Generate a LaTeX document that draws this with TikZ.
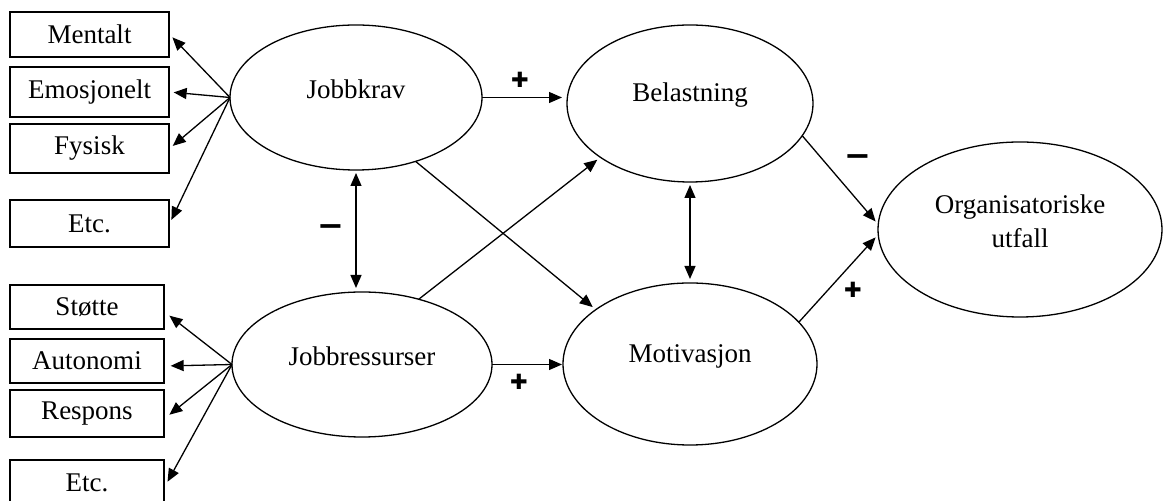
\documentclass[tikz,border=0pt]{standalone}
\usepackage{fontspec}
\setmainfont{Liberation Serif}
\newfontfamily\tegnfont{DejaVu Sans}
\usetikzlibrary{shapes.geometric, arrows.meta}

\begin{document}
\begin{tikzpicture}[x=0.5pt, y=-0.5pt, line width=0.65pt,
    font=\fontsize{13.5}{17}\selectfont,
    boks/.style={draw, rectangle, minimum width=79.5pt, minimum height=22.5pt, inner sep=0pt},
    oval/.style={draw, ellipse, inner sep=0pt, outer sep=0pt},
    tekst/.style={yshift=4pt, align=center, inner sep=0pt},
    pil/.style={-{Triangle[length=6.5pt,width=5.5pt]}, shorten >=2pt},
    dobbel/.style={{Triangle[length=6.5pt,width=5.5pt]}-{Triangle[length=6.5pt,width=5.5pt]}, shorten <=1.5pt, shorten >=2pt},
    tegn/.style={font=\tegnfont\bfseries\fontsize{16}{16}\selectfont, inner sep=0pt},
    pluss/.style={font=\tegnfont\fontsize{10.5}{10.5}\selectfont, inner sep=0pt}]
                    \useasboundingbox (0,0) rectangle (1163,501);

                    % krav
                    \node (mentalt) [boks] at (89.5, 34.5) {Mentalt};
                    \node (emosjonelt) [boks, minimum height=25pt] at (89.5, 92) {Emosjonelt};
                    \node (fysisk) [boks, minimum height=24.5pt] at (89.5, 148.5) {Fysisk};
                    \node (etckrav) [boks, minimum height=23.5pt] at (89.5, 223.5) {Etc.};

                    % ressurser
                    \node (stotte) [boks, minimum width=77pt, minimum height=22pt] at (87, 307) {Støtte};
                    \node (autonomi) [boks, minimum width=77pt, minimum height=22pt] at (87, 361) {Autonomi};
                    \node (respons) [boks, minimum width=77pt, minimum height=23.5pt] at (87, 413.5) {Respons};
                    \node (etcres) [boks, minimum width=77pt, minimum height=23pt] at (87, 483) {Etc.};

                    \node (krav) [oval, minimum width=126pt, minimum height=72.5pt, label={[tekst]center:Jobbkrav}] at (356, 97.5) {};
                    \node (res) [oval, minimum width=130pt, minimum height=72.5pt, label={[tekst]center:Jobbressurser}] at (362, 364.5) {};
                    \node (bel) [oval, minimum width=123pt, minimum height=78.5pt, label={[tekst]center:Belastning}] at (690, 103.5) {};
                    \node (mot) [oval, minimum width=127pt, minimum height=81pt, label={[tekst]center:Motivasjon}] at (690, 364) {};
                    \node (org) [oval, minimum width=142pt, minimum height=87.5pt, label={[tekst]center:{Organisatoriske\\utfall}}] at (1020, 229.5) {};

                    \node (pluss1) [pluss] at (520, 80) {✚};
                    \node (pluss2) [pluss] at (519, 382) {✚};
                    \node (pluss3) [pluss] at (853, 290) {✚};
                    \node (minus1) [tegn] at (331, 231) {−};
                    \node (minus2) [tegn] at (858, 161) {−};

                    \draw (krav.west) edge[pil] (mentalt.east);
                    \draw (krav.west) edge[pil] (emosjonelt.east);
                    \draw (krav.west) edge[pil] (fysisk.east);
                    \draw (krav.west) edge[pil] (etckrav.east);
                    \draw (res.west) edge[pil, shorten >=3pt] ([yshift=-2.5pt]stotte.east);
                    \draw (res.west) edge[pil, shorten >=3pt] ([yshift=-2.5pt]autonomi.east);
                    \draw (res.west) edge[pil, shorten >=3pt] ([yshift=-2.5pt]respons.east);
                    \draw (res.west) edge[pil, shorten >=3pt] ([yshift=-2pt]etcres.east);

                    \draw (krav.east) edge[pil, shorten >=2.5pt] (krav.east -| bel.west);
                    \draw (res.east) edge[pil, shorten >=0.5pt] (res.east -| mot.west);
                    \draw (krav.south) edge[dobbel] (krav.south |- res.north);
                    \draw (bel.south) edge[dobbel] (mot.north);
                    \draw (krav.-47.5) edge[pil] (mot.150);
                    \draw (res.49) edge[pil] (bel.211.6);
                    \draw (bel.-16) edge[pil] (org.178);
                    \draw (mot.21) edge[pil] (org.182);
                \end{tikzpicture}
\end{document}
